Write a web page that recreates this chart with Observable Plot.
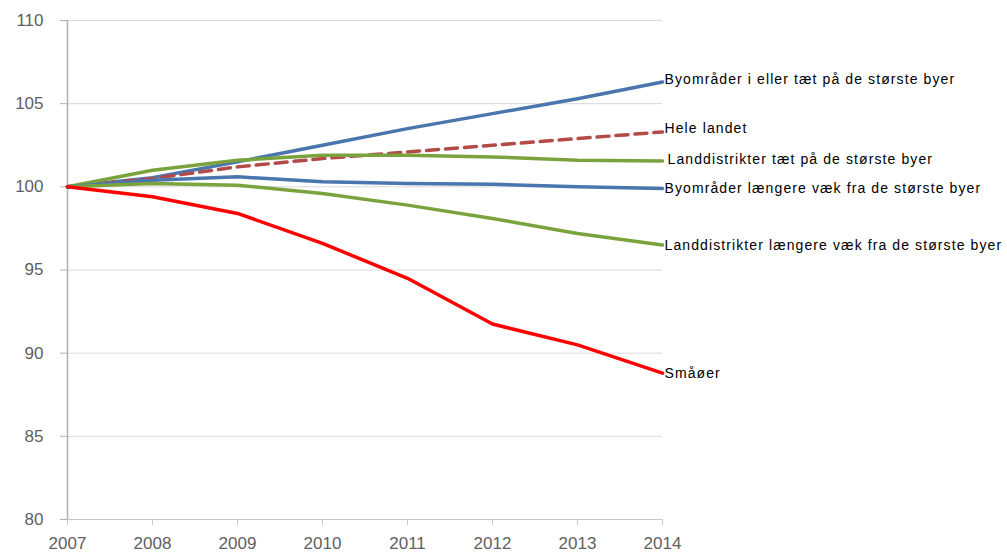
<!DOCTYPE html>
<html>
<head>
<meta charset="utf-8">
<script src="https://cdn.jsdelivr.net/npm/d3@7"></script>
<script src="https://cdn.jsdelivr.net/npm/@observablehq/plot@0.6"></script>
<style>
  html, body { margin: 0; padding: 0; background: #fff; }
  .lbl text { letter-spacing: 1.1px; }
</style>
</head>
<body>
<div id="chart"></div>
<script>
const years = [2007, 2008, 2009, 2010, 2011, 2012, 2013, 2014];
const seriesNames = [
  "Byområder i eller tæt på de største byer",
  "Hele landet",
  "Landdistrikter tæt på de største byer",
  "Byområder længere væk fra de største byer",
  "Landdistrikter længere væk fra de største byer",
  "Småøer"
];
const byomraaderTaet   = [100, 100.55, 101.5, 102.5, 103.5, 104.4, 105.3, 106.3];
const heleLandet       = [100, 100.5, 101.2, 101.7, 102.1, 102.5, 102.9, 103.3];
const landdistrTaet    = [100, 101.0, 101.6, 101.9, 101.9, 101.8, 101.6, 101.55];
const byomraaderLaengere = [100, 100.4, 100.6, 100.3, 100.2, 100.15, 100.0, 99.9];
const landdistrLaengere  = [100, 100.2, 100.1, 99.6, 98.9, 98.1, 97.2, 96.5];
const smaaoeer           = [100, 99.4, 98.4, 96.6, 94.5, 91.75, 90.5, 88.8];
const yTicks = [80, 85, 90, 95, 100, 105, 110];

const valuesList = [byomraaderTaet, heleLandet, landdistrTaet, byomraaderLaengere, landdistrLaengere, smaaoeer];
const colors = ["#4a76ae", "#b24a48", "#7aa33e", "#4a76ae", "#7aa33e", "#ff0000"];
const labelDy = [-3, -3, -2, 0, 0, 0];
const labelDx = [2, 2, 5, 2, 2, 2];

const data = [];
seriesNames.forEach((name, i) => {
  years.forEach((yr, j) => data.push({series: name, year: yr, value: valuesList[i][j], idx: i}));
});
const ends = seriesNames.map((name, i) => ({series: name, year: years[years.length - 1], value: valuesList[i][years.length - 1], idx: i}));

const marks = [
  Plot.ruleY(yTicks.filter(d => d > 80), {stroke: "#d9d9d9", strokeWidth: 1}),
  Plot.ruleX([2007], {stroke: "#b0b0b0", strokeWidth: 1.5}),
  Plot.ruleY([80], {stroke: "#c8c8c8", strokeWidth: 1}),
  Plot.axisY({ticks: yTicks, tickSize: 7, tickPadding: 17, stroke: "#b0b0b0", fill: "#606060", fontSize: 17, label: null}),
  Plot.axisX({ticks: years, tickSize: 6, tickPadding: 11, tickFormat: d => String(d), stroke: "#c8c8c8", fill: "#606060", fontSize: 17, label: null}),
];
seriesNames.forEach((name, i) => {
  const d = data.filter(r => r.idx === i);
  marks.push(Plot.line(d, {
    x: "year", y: "value", stroke: colors[i], strokeWidth: 3.5,
    strokeDasharray: i === 1 ? "12,7" : null, curve: "linear"
  }));
});
seriesNames.forEach((name, i) => {
  marks.push(Plot.text([ends[i]], {
    x: "year", y: "value", text: "series", textAnchor: "start",
    dx: labelDx[i], dy: labelDy[i], fill: "#000", fontSize: 14, className: "lbl"
  }));
});

const chart = Plot.plot({
  width: 1007,
  height: 554,
  marginLeft: 67,
  marginRight: 345,
  marginTop: 20,
  marginBottom: 35,
  style: {fontFamily: "'Liberation Sans', Arial, sans-serif", background: "#fff", overflow: "visible"},
  x: {domain: [2007, 2014]},
  y: {domain: [80, 110]},
  marks
});
document.getElementById("chart").appendChild(chart);
</script>
</body>
</html>
